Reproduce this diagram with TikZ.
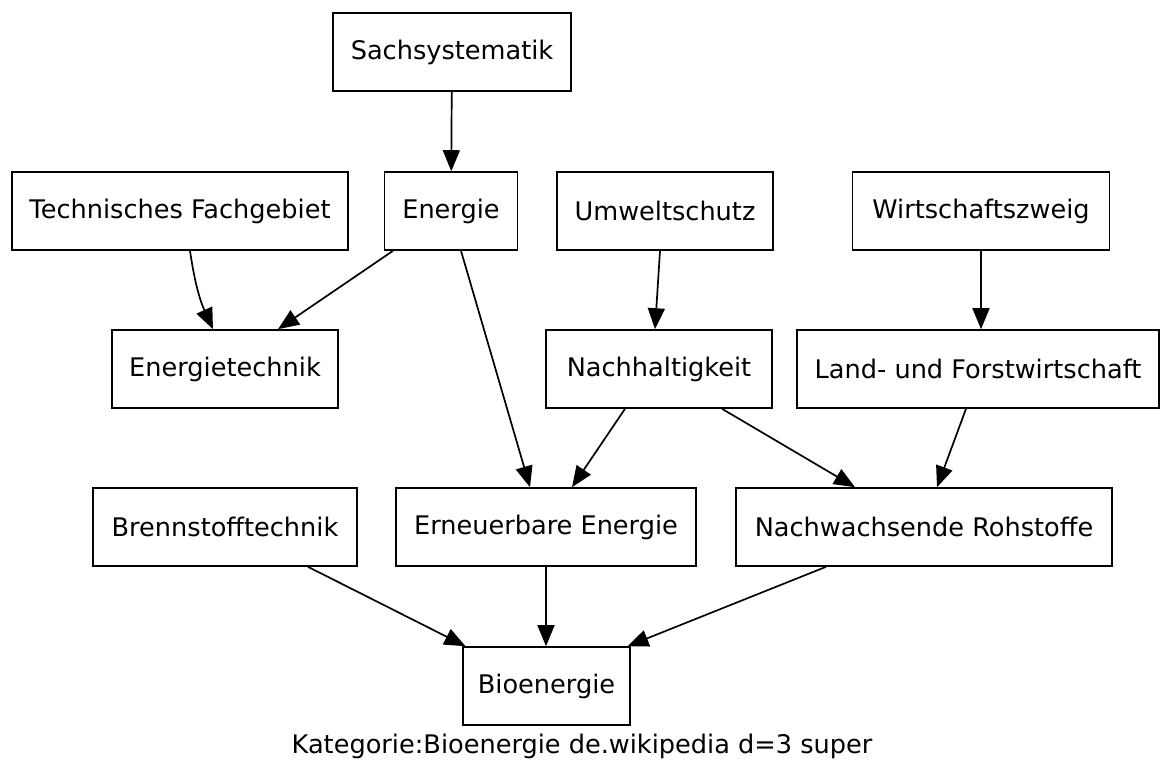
\documentclass[tikz,border=0pt]{standalone}
\usepackage{fontspec}
\setmainfont{DejaVu Sans}
\usetikzlibrary{positioning,arrows.meta}

\begin{document}
\begin{tikzpicture}[x=1pt,y=1pt,
	cat/.style={draw,line width=1.6pt,minimum height=78pt,inner sep=2pt,font=\fontsize{25.6}{30}\selectfont},
	link/.style={line width=1.7pt,-{Triangle[length=21pt,width=17pt]}}]
	\useasboundingbox (0,0) rectangle (1161,-764);
	% top rows
	\node[cat,minimum width=238pt] (sach) at (452,-52) {Sachsystematik};
	\node[cat,minimum width=336pt] (tech) at (180,-211) {Technisches Fachgebiet};
	\node[cat,minimum width=133pt] (energie) at (451,-211) {Energie};
	\node[cat,minimum width=216pt] (umwelt) at (665,-211) {Umweltschutz};
	\node[cat,minimum width=257pt] (wirt) at (981,-211) {Wirtschaftszweig};
	\node[cat,minimum width=226pt] (etech) at (225,-369) {Energietechnik};
	\node[cat,minimum width=226pt] (nach) at (659,-369) {Nachhaltigkeit};
	\node[cat,minimum width=362pt] (land) at (978,-369) {Land- und Forstwirtschaft};
	\node[cat,minimum width=264pt] (brenn) at (225,-527) {Brennstofftechnik};
	\node[cat,minimum width=300pt] (erneu) at (546,-527) {Erneuerbare Energie};
	\node[cat,minimum width=376pt] (nawa) at (924,-527) {Nachwachsende Rohstoffe};
	\node[cat,minimum width=167pt] (bio) at (546.5,-686) {Bioenergie};
	\node[font=\fontsize{25.6}{30}\selectfont] (caption) at (582,-746) {Kategorie:Bioenergie de.wikipedia d=3 super};
	% edges
	\draw[link] (sach) -- (energie);
	\draw[link] ([xshift=10pt]tech.south) to[bend right=8] ([xshift=-12pt]etech.north);
	\draw[link] ([xshift=-58pt]energie.south) -- ([xshift=53pt]etech.north);
	\draw[link] ([xshift=10pt]energie.south) -- ([xshift=-16pt]erneu.north);
	\draw[link] ([xshift=-5pt]umwelt.south) -- ([xshift=-4pt]nach.north);
	\draw[link] (wirt.south) -- (land.north -| wirt.south);
	\draw[link] ([xshift=-34pt]nach.south) -- ([xshift=26pt]erneu.north);
	\draw[link] ([xshift=63pt]nach.south) -- ([xshift=-69pt]nawa.north);
	\draw[link] ([xshift=-12pt]land.south) -- ([xshift=13pt]nawa.north);
	\draw[link] ([xshift=83pt]brenn.south) -- ([xshift=-81pt]bio.north);
	\draw[link] (erneu.south) -- (bio.north -| erneu.south);
	\draw[link] ([xshift=-98pt]nawa.south) -- ([xshift=81pt]bio.north);
\end{tikzpicture}
\end{document}
